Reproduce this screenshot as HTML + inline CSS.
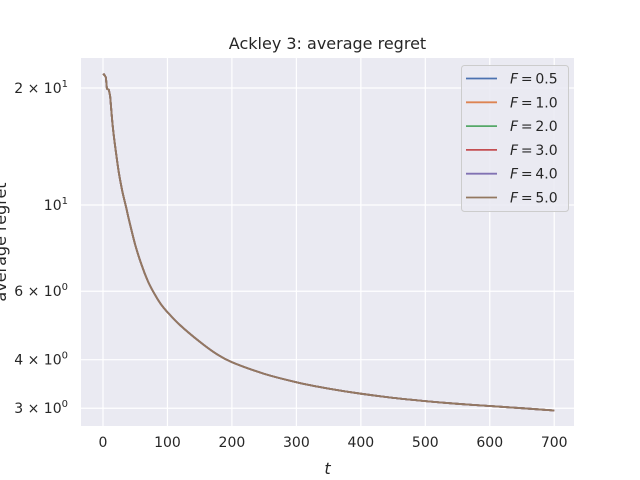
<!DOCTYPE html>
<html><head><meta charset="utf-8"><style>
body{margin:0;background:#fff}
svg{display:block;font-family:"DejaVu Sans","Liberation Sans",sans-serif}
</style></head><body>
<svg id="chart" width="640" height="480" viewBox="0 0 640 480" xmlns="http://www.w3.org/2000/svg">
<rect x="0" y="0" width="640" height="480" fill="#fff"/>
<rect x="81" y="58" width="493" height="368" fill="#eaeaf2"/>
<g id="grid"></g>
<g id="series"></g>
<g id="ticks" fill="#262626" font-size="14"></g>
<text x="327.5" y="49" text-anchor="middle" font-size="16" fill="#262626">Ackley 3: average regret</text>
<text x="327.5" y="474" text-anchor="middle" font-size="16" font-style="italic" fill="#262626">t</text>
<text transform="translate(6,242) rotate(-90)" text-anchor="middle" font-size="16" fill="#262626">average regret</text>
<g id="legend"></g>
</svg>
<script>
const tVals=[0,1.5,4.5,6,9,11,15,20,25,30,36,40,50,60,70,80,90,100,120,150,175,200,250,300,350,400,450,500,550,600,650,700];
const regret=[21.6,21.7,21.3,19.9,19.8,19.1,16.0,13.7,12.0,10.85,9.85,9.2,7.9,7.0,6.35,5.9,5.55,5.3,4.9,4.45,4.15,3.94,3.68,3.50,3.37,3.27,3.19,3.13,3.08,3.04,3.00,2.96];
const seriesLabels=["F = 0.5","F = 1.0","F = 2.0","F = 3.0","F = 4.0","F = 5.0"];
const seriesValues=seriesLabels.map(()=>regret);
const colors=["#4c72b0","#dd8452","#55a868","#c44e52","#8172b3","#937860"];
const xTicks=[0,100,200,300,400,500,600,700];
const yTicks=[20,10,6,4,3];
const yTickLabels=[["2","1"],["","1"],["6","0"],["4","0"],["3","0"]];
const NS="http://www.w3.org/2000/svg";
const X=t=>103+t*0.6446;
const Y=v=>205-388.7*Math.log10(v/10);
function mk(tag,attrs,parent){const e=document.createElementNS(NS,tag);for(const k in attrs)e.setAttribute(k,attrs[k]);parent.appendChild(e);return e;}
const grid=document.getElementById('grid'),ticks=document.getElementById('ticks'),ser=document.getElementById('series'),leg=document.getElementById('legend');
xTicks.forEach(t=>{
 const l=mk('line',{x1:X(t),x2:X(t),y1:58,y2:426,stroke:'#fff','stroke-width':1.2},grid);
 
 
 const tx=mk('text',{x:X(t),y:447,'text-anchor':'middle'},ticks);
 tx.textContent=t;
 
 
});
yTicks.forEach((v,i)=>{
 const l=mk('line',{x1:81,x2:574,y1:Y(v),y2:Y(v),stroke:'#fff','stroke-width':1.2},grid);
 
 
 const tx=mk('text',{x:68,y:Y(v)+5,'text-anchor':'end'},ticks);
 
 
 const [m,e]=yTickLabels[i];
 tx.innerHTML=(m?m+' \u00d7 ':'')+'10<tspan dy="-6" font-size="10">'+e+'</tspan>';
});
function smoothPath(pts){
 let d='M'+pts[0][0].toFixed(1)+','+pts[0][1].toFixed(1);
 for(let i=0;i<pts.length-1;i++){
  const p0=pts[Math.max(0,i-1)],p1=pts[i],p2=pts[i+1],p3=pts[Math.min(pts.length-1,i+2)];
  if(i<5){d+='L'+p2[0].toFixed(1)+','+p2[1].toFixed(1);continue;}
  const c1=[p1[0]+(p2[0]-p0[0])/6,p1[1]+(p2[1]-p0[1])/6],c2=[p2[0]-(p3[0]-p1[0])/6,p2[1]-(p3[1]-p1[1])/6];
  d+='C'+c1.map(n=>n.toFixed(1)).join(',')+' '+c2.map(n=>n.toFixed(1)).join(',')+' '+p2[0].toFixed(1)+','+p2[1].toFixed(1);
 }
 return d;
}
seriesValues.forEach((vals,i)=>{
 const pts=vals.map((v,j)=>[X(tVals[j]),Y(v)]);
 const p=mk('path',{d:smoothPath(pts),fill:'none',stroke:colors[i],'stroke-width':1.8,'stroke-linejoin':'round'},ser);
 
 
});
const box=mk('rect',{x:461.5,y:65.5,width:107,height:146,rx:3,fill:'#eaeaf2','fill-opacity':0.85,stroke:'#ccc'},leg);


seriesLabels.forEach((lab,i)=>{
 const y=78.5+i*23.8;
 const l=mk('line',{x1:466,x2:497,y1:y,y2:y,stroke:colors[i],'stroke-width':1.8},leg);
 
 
 const t=mk('text',{x:510,y:y+5,'font-size':14,fill:'#262626'},leg);
 
 
 t.innerHTML='<tspan font-style="italic">F</tspan>\u2009=\u2009'+lab.split('= ')[1];
});
</script>
</body></html>
